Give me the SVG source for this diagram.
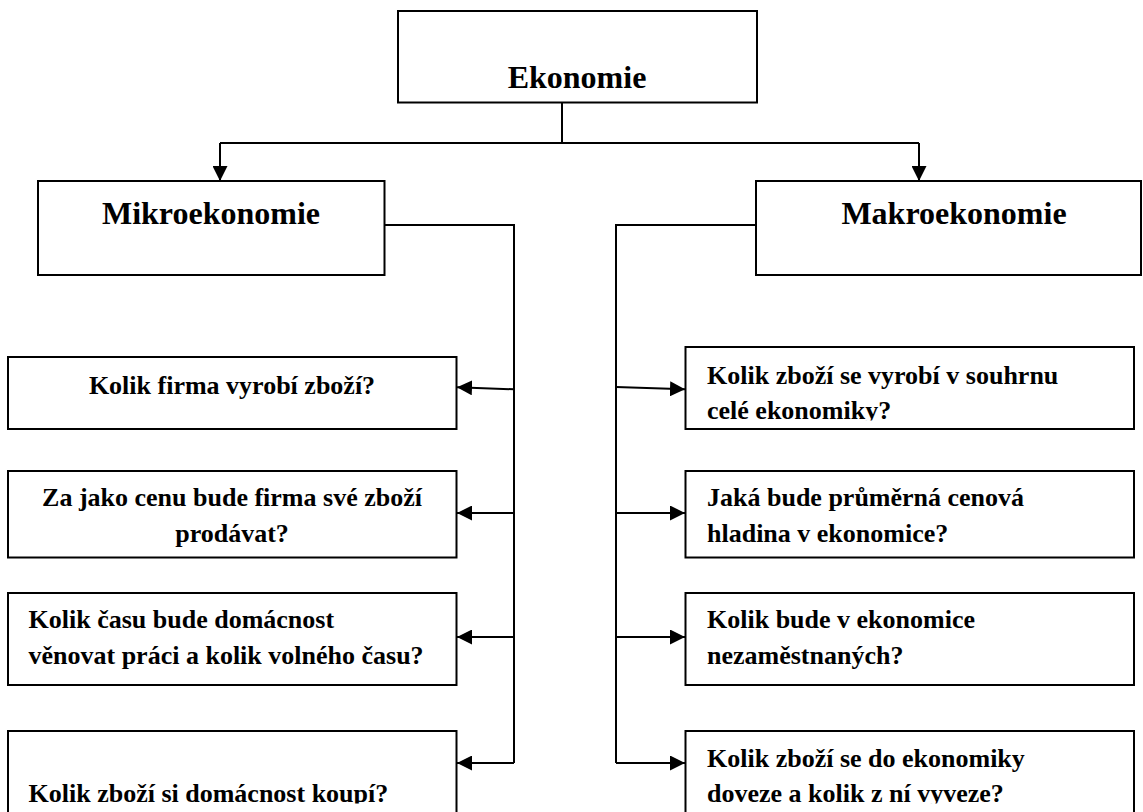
<svg xmlns="http://www.w3.org/2000/svg" width="1143" height="812" viewBox="0 0 1143 812">
<style>
.box{fill:#fff;stroke:#000;stroke-width:2}
.t{font-family:"Liberation Serif","Times New Roman",serif;font-weight:bold;fill:#000}
.big{font-size:32px;text-anchor:middle}
.q{font-size:26px}
.c{text-anchor:middle}
.ln{fill:none;stroke:#000;stroke-width:2}
</style>
<defs>
<marker id="ah" markerWidth="16" markerHeight="15" refX="15" refY="7.5" orient="auto" markerUnits="userSpaceOnUse"><path d="M0,0 L15,7.5 L0,15 Z" fill="#000"/></marker>
<clipPath id="cl1"><rect x="680" y="340" width="460" height="80.5"/></clipPath>
<clipPath id="cl2"><rect x="0" y="700" width="1143" height="103.5"/></clipPath>
</defs>
<rect width="1143" height="812" fill="#fff"/>
<g id="connectors">
<path class="ln" d="M562 102.5 V143"/>
<path class="ln" d="M220 143 H919" />
<path class="ln" d="M220 143 V181" marker-end="url(#ah)"/>
<path class="ln" d="M919 143 V181" marker-end="url(#ah)"/>
<path class="ln" d="M384.5 225 H514 V763"/>
<path class="ln" d="M514 389.3 L457 387.3" marker-end="url(#ah)"/>
<path class="ln" d="M514 513 H457" marker-end="url(#ah)"/>
<path class="ln" d="M514 637 H457" marker-end="url(#ah)"/>
<path class="ln" d="M514 763 H457" marker-end="url(#ah)"/>
<path class="ln" d="M756 225 H616 V763"/>
<path class="ln" d="M616 387 L685 389.3" marker-end="url(#ah)"/>
<path class="ln" d="M616 513 H685" marker-end="url(#ah)"/>
<path class="ln" d="M616 637 H685" marker-end="url(#ah)"/>
<path class="ln" d="M616 763 H685" marker-end="url(#ah)"/>
</g>
<g id="ekonomie">
<rect class="box" x="398" y="11" width="359" height="91.5"/>
<text class="t big" x="577" y="88">Ekonomie</text>
</g>
<g id="mikro">
<rect class="box" x="38" y="181" width="346.5" height="94"/>
<text class="t big" x="211" y="224">Mikroekonomie</text>
</g>
<g id="makro">
<rect class="box" x="756" y="181" width="385" height="94"/>
<text class="t big" x="954" y="224">Makroekonomie</text>
</g>
<g id="q1">
<rect class="box" x="8" y="357" width="448.5" height="72"/>
<text class="t q c" x="232" y="393.5">Kolik firma vyrobí zboží?</text>
</g>
<g id="q2">
<rect class="box" x="8" y="471" width="448.5" height="86.5"/>
<text class="t q c" x="232" y="506">Za jako cenu bude firma své zboží</text>
<text class="t q c" x="232" y="542">prodávat?</text>
</g>
<g id="q3">
<rect class="box" x="8" y="593" width="448.5" height="92"/>
<text class="t q" x="28.5" y="628">Kolik času bude domácnost</text>
<text class="t q" x="28.5" y="664">věnovat práci a kolik volného času?</text>
</g>
<g id="q4">
<rect class="box" x="8" y="731" width="448.5" height="110"/>
<text class="t q" x="28.5" y="802" clip-path="url(#cl2)">Kolik zboží si domácnost koupí?</text>
</g>
<g id="r1">
<rect class="box" x="685.5" y="347" width="448.5" height="82"/>
<text class="t q" x="707" y="383.5">Kolik zboží se vyrobí v souhrnu</text>
<text class="t q" x="707" y="419" clip-path="url(#cl1)">celé ekonomiky?</text>
</g>
<g id="r2">
<rect class="box" x="685.5" y="471" width="448.5" height="86.5"/>
<text class="t q" x="707" y="506">Jaká bude průměrná cenová</text>
<text class="t q" x="707" y="542">hladina v ekonomice?</text>
</g>
<g id="r3">
<rect class="box" x="685.5" y="593" width="448.5" height="92"/>
<text class="t q" x="707" y="628">Kolik bude v ekonomice</text>
<text class="t q" x="707" y="664">nezaměstnaných?</text>
</g>
<g id="r4">
<rect class="box" x="685.5" y="731" width="448.5" height="110"/>
<text class="t q" x="707" y="767">Kolik zboží se do ekonomiky</text>
<text class="t q" x="707" y="802" clip-path="url(#cl2)">doveze a kolik z ní vyveze?</text>
</g>
</svg>
